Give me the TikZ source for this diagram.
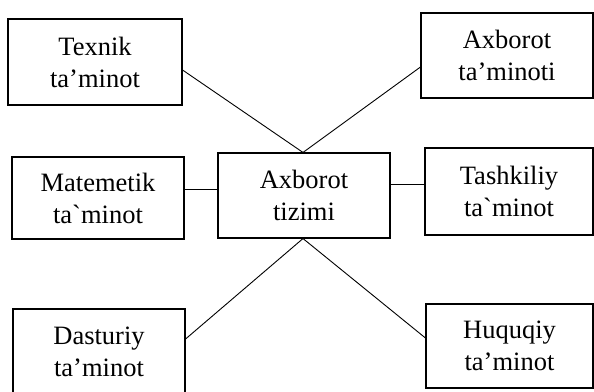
\documentclass[tikz,border=0pt]{standalone}
\usepackage{fontspec}
\setmainfont{Liberation Serif}
\begin{document}
\begin{tikzpicture}[x=1pt,y=-1pt,
  box/.style={draw, line width=1.1pt, inner sep=0pt, align=center,
    font=\fontsize{26.5}{32}\selectfont},
  link/.style={line width=0.9pt}]
\useasboundingbox (0,0) rectangle (594,391);
\node[box, minimum width=174pt, minimum height=86pt] (tex) at (95,62) {Texnik\\ta’minot};
\node[box, minimum width=172pt, minimum height=85pt] (axt) at (507,55.5) {Axborot\\ta’minoti};
\node[box, minimum width=172pt, minimum height=82pt] (mat) at (98,198) {Matemetik\\ta\textasciigrave minot};
\node[box, minimum width=172pt, minimum height=85pt] (ctr) at (304,195.5) {Axborot\\tizimi};
\node[box, minimum width=168pt, minimum height=87pt] (tash) at (509,191.5) {Tashkiliy\\ta\textasciigrave minot};
\node[box, minimum width=172pt, minimum height=86pt] (das) at (99,352) {Dasturiy\\ta’minot};
\node[box, minimum width=167pt, minimum height=84pt] (huq) at (509.5,346) {Huquqiy\\ta’minot};
\coordinate (mlink) at ([yshift=9pt]mat.east);
\coordinate (tlink) at ([yshift=11.5pt]ctr.east);
\draw[link] ([yshift=-8pt]tex.east) -- ([xshift=-1pt]ctr.north);
\draw[link] ([yshift=-11.5pt]axt.west) -- ([xshift=-1pt]ctr.north);
\draw[link] (mlink) -- (mlink -| ctr.west);
\draw[link] (tlink) -- (tlink -| tash.west);
\draw[link] ([xshift=-1pt]ctr.south) -- ([yshift=13pt]das.east);
\draw[link] ([xshift=-1pt]ctr.south) -- ([yshift=8pt]huq.west);
\end{tikzpicture}
\end{document}
